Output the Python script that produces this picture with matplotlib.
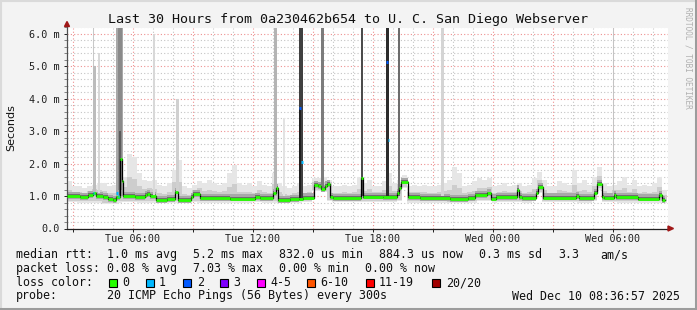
import matplotlib
matplotlib.use('Agg')
import matplotlib.pyplot as plt
from matplotlib.lines import Line2D
from matplotlib.patches import Rectangle, Polygon
from matplotlib.ticker import MultipleLocator
import numpy as np

# time axis: hours since Tue 00:00
t_start, t_end = 2.7, 32.75
bin_h = 0.25  # smoke bins of 15 minutes

# outer smoke envelope per bin (ms)
smoke_hi = [1.45, 1.3, 1.3, 1.25, 1.3, 1.35, 1.4, 1.4, 1.3, 1.35,
            1.5, 1.6, 2.3, 2.2, 1.7, 1.5, 1.45, 1.5, 1.35, 1.3,
            1.4, 1.8, 2.1, 1.3, 1.25, 1.35, 1.45, 1.4, 1.5, 1.4,
            1.35, 1.4, 1.7, 1.95, 1.4, 1.35, 1.4, 1.3, 1.45, 1.35,
            1.3, 1.7, 1.4, 1.3, 1.25, 1.3, 1.4, 1.3, 1.35, 1.55,
            1.55, 1.6, 1.5, 1.3, 1.3, 1.35, 1.3, 1.35, 1.6, 1.4,
            1.5, 1.3, 1.3, 1.45, 1.7, 1.4, 1.5, 1.65, 1.3, 1.35,
            1.3, 1.35, 1.3, 1.3, 1.35, 1.4, 1.5, 1.9, 1.7, 1.3,
            1.35, 1.45, 1.55, 1.5, 1.55, 1.3, 1.35, 1.4, 1.3, 1.35,
            1.4, 1.3, 1.35, 1.55, 1.75, 1.5, 1.3, 1.3, 1.45, 1.4,
            1.35, 1.8, 1.4, 1.5, 1.35, 1.6, 1.9, 1.4, 1.3, 1.35,
            1.45, 1.6, 1.35, 1.5, 1.3, 1.35, 1.3, 1.4, 1.6, 1.2]
smoke_lo = [0.82, 0.82, 0.8, 0.8, 0.8, 0.8, 0.8, 0.75, 0.75, 0.76,
            0.8, 0.82, 0.82, 0.82, 0.8, 0.8, 0.8, 0.8, 0.78, 0.78,
            0.8, 0.8, 0.8, 0.78, 0.8, 0.82, 0.8, 0.8, 0.8, 0.8,
            0.8, 0.8, 0.8, 0.8, 0.8, 0.8, 0.8, 0.82, 0.82, 0.8,
            0.8, 0.8, 0.78, 0.78, 0.78, 0.78, 0.8, 0.82, 0.82, 1.15,
            1.15, 1.12, 0.85, 0.82, 0.82, 0.82, 0.82, 0.82, 0.82, 0.82,
            0.82, 0.82, 0.82, 0.82, 0.82, 0.82, 0.85, 1.25, 0.8, 0.8,
            0.8, 0.8, 0.8, 0.8, 0.8, 0.8, 0.78, 0.78, 0.78, 0.8,
            0.8, 0.8, 0.85, 0.85, 0.85, 0.8, 0.82, 0.82, 0.82, 0.82,
            0.82, 0.8, 0.8, 0.9, 1.1, 0.82, 0.82, 0.82, 0.82, 0.82,
            0.82, 0.82, 0.8, 0.8, 0.8, 0.85, 1.2, 0.82, 0.82, 0.82,
            0.8, 0.8, 0.8, 0.8, 0.8, 0.8, 0.8, 0.8, 0.8, 0.8]

# median rtt change points (hours, ms)
med_t = [2.7, 3.35, 3.75, 4.0, 4.15, 4.5, 4.75, 5.0, 5.15, 5.325, 5.425, 5.5,
         6.1, 6.6, 6.7, 6.85, 7.15, 7.7, 8.075, 8.225, 8.9, 9.0, 9.35, 10.85,
         12.1, 12.35, 13.0, 13.15, 13.25, 13.85, 14.275, 14.5, 15.025, 15.25,
         15.4, 15.575, 15.7, 15.85, 16.0, 17.4, 17.5, 18.5, 19.2, 19.275, 19.4,
         19.725, 20.35, 21.85, 22.75, 23.1, 23.7, 23.9, 24.15, 25.2, 25.3,
         25.45, 26.125, 26.225, 26.475, 28.15, 28.3, 29.05, 29.2, 29.425,
         29.55, 30.05, 30.15, 31.25, 32.3, 32.45]
med_v = [1.0, 0.97, 1.02, 1.1, 1.0, 0.97, 0.9, 0.87, 0.97, 2.15, 1.47, 1.0,
         0.97, 1.02, 1.06, 1.0, 0.88, 0.9, 1.13, 0.88, 0.98, 1.06, 0.93, 0.92,
         0.97, 0.94, 1.09, 1.25, 0.88, 0.9, 0.92, 0.95, 1.34, 1.3,
         1.22, 1.32, 1.37, 0.97, 0.93, 1.56, 0.98, 0.97, 1.1, 1.25, 1.44,
         0.97, 0.94, 0.9, 0.93, 1.03, 1.08, 0.92, 0.97, 1.2, 0.97,
         0.93, 1.1, 1.28, 0.95, 1.0, 0.93, 1.1, 1.38, 0.97,
         0.95, 1.03, 0.96, 0.92, 1.03, 0.88]
med_end = 32.575

# tall smoke spikes: left edge (h), width (h), bottom, top (ms), shade
spike_t = [4.0, 4.0, 4.25, 5.15, 5.225, 5.3, 7.0, 8.15, 13.05, 13.5,
           14.275, 14.275, 15.375, 17.4, 18.625, 19.25, 21.4, 30.0]
spike_w = [0.06, 0.15, 0.075, 0.35, 0.2, 0.1, 0.12, 0.15, 0.17, 0.1,
           0.2, 0.1, 0.15, 0.12, 0.18, 0.12, 0.17, 0.05]
spike_lo = [1.0, 1.0, 1.1, 1.0, 1.2, 1.0, 1.0, 1.1, 1.0, 1.0,
            0.95, 0.95, 1.2, 1.0, 1.0, 1.0, 1.0, 1.0]
spike_hi = [6.2, 5.0, 5.4, 6.2, 6.2, 3.0, 6.0, 4.0, 6.2, 3.4,
            6.2, 3.7, 6.2, 6.2, 6.2, 6.2, 6.2, 6.2]
spike_col = ['#c8c8c8', '#bcbcbc', '#d8d8d8', '#a8a8a8', '#8a8a8a', '#5a5a5a',
             '#d8d8d8', '#d0d0d0', '#b4b4b4', '#e2e2e2', '#404040', '#202020',
             '#7c7c7c', '#4c4c4c', '#2c2c2c', '#6c6c6c', '#d4d4d4', '#c4c4c4']

# median points with packet loss
loss_t = [4.025, 5.19, 5.265, 14.35, 14.435, 18.685, 18.765]
loss_v = [1.08, 1.1, 1.0, 3.71, 2.06, 5.15, 2.73]
loss_n = [1, 1, 1, 2, 1, 2, 1]

loss_labels = ['0', '1', '2', '3', '4-5', '6-10', '11-19', '20/20']
loss_colors = ['#26ff00', '#00b8ff', '#0059ff', '#7e00ff', '#ff00ff',
               '#ff5500', '#ff0000', '#a10000']

x_ticks = [6, 12, 18, 24, 30]
x_labels = ['Tue 06:00', 'Tue 12:00', 'Tue 18:00', 'Wed 00:00', 'Wed 06:00']
y_ticks = [0, 1, 2, 3, 4, 5, 6]
y_labels = ['0.0', '1.0 m', '2.0 m', '3.0 m', '4.0 m', '5.0 m', '6.0 m']

title = 'Last 30 Hours from 0a230462b654 to U. C. San Diego Webserver'
rows = [
    [(16, 'median rtt:'), (107, '1.0 ms avg'), (193, '5.2 ms max'),
     (279, '832.0 us min'), (379, '884.3 us now'), (479, '0.3 ms sd'),
     (558, '3.3'), (600, 'am/s')],
    [(16, 'packet loss:'), (107, '0.08 % avg'), (193, '7.03 % max'),
     (279, '0.00 % min'), (365, '0.00 % now')],
    [(16, 'loss color:')],
    [(16, 'probe:'), (107, '20 ICMP Echo Pings (56 Bytes) every 300s')],
]
row_y = [254.5, 268.5, 282.5, 296]
stamp = 'Wed Dec 10 08:36:57 2025'
box_x = [108.5, 145.5, 182.5, 219.5, 256.5, 306.5, 365.5, 431.5]
box_lbl_x = [122, 159, 197, 233, 270, 320, 379, 446]

W, H = 697, 310
mono = 'DejaVu Sans Mono'


def fx(x):
    return x / W


def fy(y):
    return 1 - y / H


fig = plt.figure(figsize=(W / 100, H / 100), dpi=100, facecolor='#f3f3f3')
ax = fig.add_axes([fx(67), fy(228.5), 601 / W, 201 / H])
ax.set_facecolor('white')
ax.set_xlim(t_start, t_end)
ax.set_ylim(0, 6.2)

# grid
ax.xaxis.set_major_locator(MultipleLocator(3))
ax.xaxis.set_minor_locator(MultipleLocator(1))
ax.yaxis.set_major_locator(MultipleLocator(1))
ax.yaxis.set_minor_locator(MultipleLocator(0.2))
ax.grid(which='minor', color='#c4c4c4', linestyle=(0, (1, 2)), lw=0.8, zorder=0)
ax.grid(which='major', color='#ee9090', linestyle=(0, (1, 2)), lw=0.8, zorder=0)
ax.set_axisbelow(True)

# smoke: outer envelope, then shades closer to the median
edges = np.array([t_start + bin_h * i for i in range(len(smoke_hi) + 1)])
hi = np.array(smoke_hi + [smoke_hi[-1]])
lo = np.array(smoke_lo + [smoke_lo[-1]])
med_at_bin = np.array(med_v)[np.clip(np.searchsorted(med_t, edges + bin_h / 2, side='right') - 1, 0, None)]
ax.fill_between(edges, lo, hi, step='post', color='#e6e6e6', lw=0, zorder=1)
ax.fill_between(edges, np.minimum(lo + 0.04, med_at_bin), med_at_bin + 0.45 * (hi - med_at_bin),
                step='post', color='#cdcdcd', lw=0, zorder=1)

mt = med_t + [med_end]
mv = med_v + [med_v[-1]]
ax.fill_between(mt, [v - 0.08 for v in mv], [v + 0.13 for v in mv],
                step='post', color='#a8a8a8', lw=0, zorder=2)
ax.fill_between(mt, [v - 0.035 for v in mv], [v + 0.06 for v in mv],
                step='post', color='#6e6e6e', lw=0, zorder=2)

ax.bar(spike_t, [h - l for h, l in zip(spike_hi, spike_lo)], width=spike_w,
       bottom=spike_lo, align='edge', color=spike_col, lw=0, zorder=3)

# median
ax.step(mt, mv, where='post', color='black', lw=0.9, zorder=4)
ax.hlines(med_v, med_t, med_t[1:] + [med_end], color=loss_colors[0], lw=2.0, zorder=5)
ax.hlines(loss_v, [t - 0.04 for t in loss_t], [t + 0.04 for t in loss_t],
          color=[loss_colors[n] for n in loss_n], lw=2.2, zorder=6)

# axes
for s in ['top', 'right']:
    ax.spines[s].set_visible(False)
ax.spines['left'].set_color('#505050')
ax.spines['bottom'].set_color('#202020')
ax.spines['left'].set_linewidth(0.9)
ax.spines['bottom'].set_linewidth(0.9)
ax.set_yticks(y_ticks)
ax.set_yticklabels(y_labels, family=mono, fontsize=7.3)
major_x = [3, 6, 9, 12, 15, 18, 21, 24, 27, 30]
ax.set_xticks(major_x)
ax.set_xticklabels(['' if t not in x_ticks else x_labels[x_ticks.index(t)] for t in major_x],
                   family=mono, fontsize=7.3)
ax.tick_params(axis='y', which='major', length=2.5, width=0.7, pad=2.5, colors='#202020')
ax.tick_params(axis='y', which='minor', length=2, width=0.6, color='#707070')
ax.tick_params(axis='x', which='major', length=2, width=0.7, pad=2, colors='#202020')
ax.tick_params(axis='x', which='minor', length=0)

# axis arrows
fig.add_artist(Polygon([(fx(64.5), fy(26.5)), (fx(69.5), fy(26.5)), (fx(67), fy(21.5))],
                       closed=True, color='#a01818', transform=fig.transFigure))
fig.add_artist(Polygon([(fx(668), fy(226)), (fx(668), fy(231)), (fx(673.5), fy(228.5))],
                       closed=True, color='#a01818', transform=fig.transFigure))

# texts
fig.text(fx(348), fy(19), title, family=mono, fontsize=9.6, ha='center', va='center',
         color='#101010')
fig.text(fx(11), fy(128), 'Seconds', family='DejaVu Sans', fontsize=8, rotation=90,
         ha='center', va='center', color='#101010')
fig.text(fx(688), fy(58), 'RRDTOOL / TOBI OETIKER', family=mono, fontsize=5.6,
         rotation=270, ha='center', va='center', color='#b0b0b0')

for row, y in zip(rows, row_y):
    for x, s in row:
        fig.text(fx(x), fy(y), s, family=mono, fontsize=8.4, ha='left', va='center',
                 color='#101010')
fig.text(fx(680), fy(row_y[3]), stamp, family=mono, fontsize=8.4, ha='right',
         va='center', color='#101010')

for bx, lx, lbl, c in zip(box_x, box_lbl_x, loss_labels, loss_colors):
    fig.add_artist(Rectangle((fx(bx), fy(286.5)), 8 / W, 8 / H, facecolor=c,
                             edgecolor='black', lw=0.8, transform=fig.transFigure))
    fig.text(fx(lx), fy(row_y[2]), lbl, family=mono, fontsize=8.4, ha='left',
             va='center', color='#101010')

# 3d frame
fig.add_artist(Line2D([0, 1], [fy(0.5)] * 2, color='#dadada', lw=1.5, transform=fig.transFigure))
fig.add_artist(Line2D([fx(0.5)] * 2, [0, 1], color='#dadada', lw=1.5, transform=fig.transFigure))
fig.add_artist(Line2D([0, 1], [fy(309)] * 2, color='#9c9c9c', lw=2.2, transform=fig.transFigure))
fig.add_artist(Line2D([fx(696)] * 2, [0, 1], color='#9c9c9c', lw=2.2, transform=fig.transFigure))

fig.savefig('out.png', dpi=100, facecolor=fig.get_facecolor())
